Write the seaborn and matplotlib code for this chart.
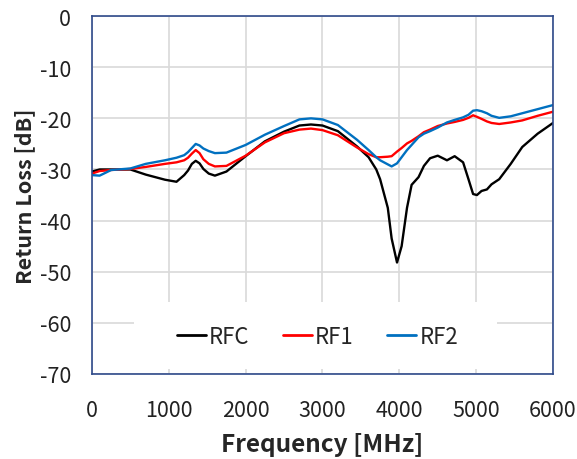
import numpy as np
import pandas as pd
import matplotlib
matplotlib.use("Agg")
import matplotlib.pyplot as plt
from matplotlib.patches import Rectangle
import seaborn as sns

# Frequency sweep points [MHz]
freq = [0, 100, 250, 500, 700, 950, 1100, 1200, 1250, 1300, 1350, 1400, 1450,
        1520, 1600, 1750, 2000, 2250, 2500, 2700, 2850, 3000, 3200, 3450, 3600,
        3700, 3750, 3850, 3900, 3970, 4030, 4100, 4160, 4250, 4320, 4400, 4500,
        4620, 4720, 4830, 4900, 4960, 5010, 5070, 5140, 5200, 5300, 5450, 5600,
        5800, 6000]

# Return loss [dB] per port
rfc = [-30.4, -30.0, -30.0, -30.0, -31.0, -32.0, -32.4, -31.1, -30.2, -28.9,
       -28.3, -28.8, -29.9, -30.8, -31.2, -30.4, -27.4, -24.5, -22.6, -21.4,
       -21.2, -21.4, -22.5, -25.5, -27.6, -30.0, -31.9, -37.5, -43.5, -48.2,
       -45.0, -37.5, -33.0, -31.5, -29.3, -27.8, -27.3, -28.2, -27.4, -28.6,
       -31.9, -34.8, -35.0, -34.2, -33.9, -32.9, -31.9, -28.9, -25.6, -23.0,
       -20.9]
rf1 = [-30.8, -30.3, -30.1, -29.9, -29.5, -28.9, -28.6, -28.2, -27.7, -26.9,
       -26.2, -26.8, -28.0, -28.9, -29.4, -29.3, -27.3, -24.7, -22.9, -22.2,
       -22.0, -22.3, -23.3, -25.7, -27.0, -27.6, -27.6, -27.5, -27.4, -26.5,
       -25.8, -24.9, -24.4, -23.5, -22.7, -22.2, -21.5, -21.0, -20.7, -20.3,
       -19.9, -19.4, -19.7, -20.1, -20.6, -20.9, -21.1, -20.8, -20.4, -19.5,
       -18.7]
rf2 = [-31.1, -31.2, -30.1, -29.8, -28.9, -28.2, -27.7, -27.2, -26.6, -25.8,
       -25.0, -25.3, -25.9, -26.4, -26.8, -26.7, -25.2, -23.2, -21.5, -20.2,
       -20.0, -20.2, -21.3, -24.2, -26.2, -27.6, -28.2, -29.0, -29.4, -28.8,
       -27.6, -26.2, -25.2, -23.7, -23.0, -22.5, -21.8, -20.8, -20.3, -19.8,
       -19.3, -18.5, -18.4, -18.6, -19.0, -19.5, -19.9, -19.6, -19.0, -18.2,
       -17.4]

series_names = ["RFC", "RF1", "RF2"]
series_colors = ["#000000", "#FF0000", "#0070C0"]
x_ticks = [0, 1000, 2000, 3000, 4000, 5000, 6000]
y_ticks = [0, -10, -20, -30, -40, -50, -60, -70]

df = pd.DataFrame({
    "Frequency": freq * 3,
    "Return Loss": rfc + rf1 + rf2,
    "Port": sum([[n] * len(freq) for n in series_names], []),
})

sns.set_theme(style="white")
plt.rcParams["font.family"] = ["Noto Sans CJK KR", "DejaVu Sans"]
plt.rcParams["axes.unicode_minus"] = False

fig = plt.figure(figsize=(5.77, 4.60), dpi=100)
ax = fig.add_axes([0.1594, 0.1848, 0.799, 0.778])

sns.lineplot(data=df, x="Frequency", y="Return Loss", hue="Port",
             hue_order=series_names, palette=series_colors, linewidth=1.7,
             ax=ax, sort=False)

ax.set_xlim(0, 6000)
ax.set_ylim(-70, 0)
ax.set_xticks(x_ticks)
ax.set_yticks(y_ticks)
ax.tick_params(axis="both", length=0, labelsize=15.5, labelcolor="#222222")
ax.tick_params(axis="x", pad=18)
ax.tick_params(axis="y", pad=15)
ax.grid(True, color="#d9d9d9", linewidth=1.2)
ax.set_axisbelow(True)
for sp in ax.spines.values():
    sp.set_color("#2F4A8A")
    sp.set_linewidth(1.2)

ax.set_xlabel("Frequency [MHz]", fontsize=17.5, fontweight="bold", labelpad=8)
ax.set_ylabel("Return Loss [dB]", fontsize=15.5, fontweight="bold", labelpad=3)

# white panel behind the legend
ax.add_patch(Rectangle((0.091, 0.014), 0.7875, 0.187, transform=ax.transAxes,
                       facecolor="white", edgecolor="none", zorder=1.5))

leg = ax.legend(loc="center", bbox_to_anchor=(0.489, 0.106), ncol=3,
                frameon=False, fontsize=16, handlelength=1.3,
                columnspacing=1.5, handletextpad=0.15)
for h in leg.get_lines():
    h.set_linewidth(2.0)

fig.savefig("out.png", dpi=100)
